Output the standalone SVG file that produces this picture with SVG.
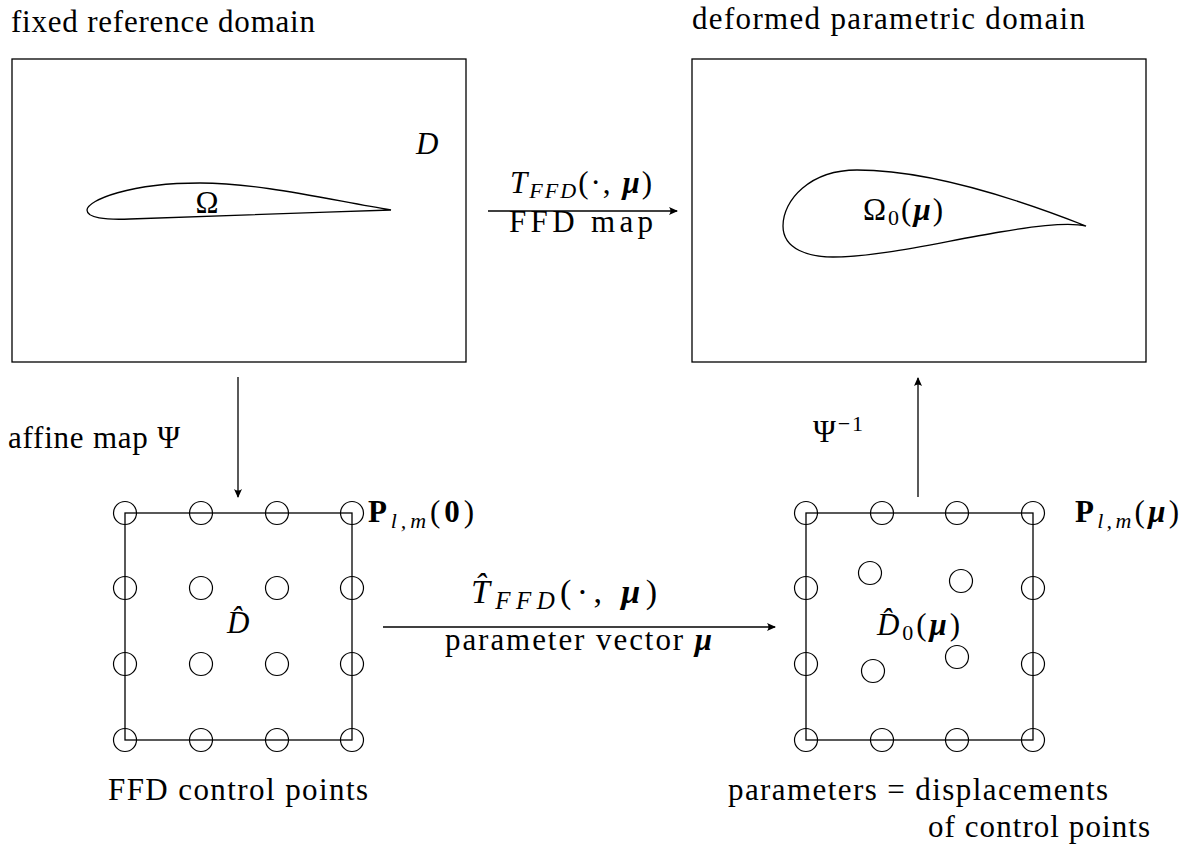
<svg xmlns="http://www.w3.org/2000/svg" width="1196" height="847" viewBox="0 0 1196 847">
<style>
  .t { font-family: 'Liberation Serif', 'Times New Roman', serif; font-size: 31px; fill: #000; }
  .it { font-style: italic; }
  .bf { font-weight: bold; }
  .bi { font-weight: bold; font-style: italic; }
  .sub { font-size: 22px; }
  .big { font-size: 34px; }
  .bigsub { font-size: 25px; }
  .box { fill: none; stroke: #000; stroke-width: 1.3; }
  .cp { fill: none; stroke: #000; stroke-width: 1.2; }
  .foil { fill: none; stroke: #000; stroke-width: 1.3; }
  .conn { fill: none; stroke: #000; stroke-width: 1.3; marker-end: url(#arr); }
</style>
<defs>
  <marker id="arr" viewBox="-10 -5 12 10" refX="0" refY="0" markerWidth="12" markerHeight="10" orient="auto" markerUnits="userSpaceOnUse">
    <path d="M1,0 L-8,-4 Q-5,0 -8,4 Z" fill="#000"/>
  </marker>
</defs>
<rect width="1196" height="847" fill="#fff"/>
<g class="t" font-family="'Liberation Serif', serif" font-size="31">

<g id="reference-domain">
  <text x="11" y="32" textLength="304">fixed reference domain</text>
  <rect class="box" x="12" y="59" width="454" height="303"/>
  <path class="foil" d="M391,210 C330,200 260,183 200,183 C130,183 88,200 87,210 C87,218 105,220 130,219 C200,217 300,213 391,210 Z"/>
  <text x="207" y="213" text-anchor="middle">Ω</text>
  <text class="it" x="416" y="154">D</text>
</g>

<g id="deformed-domain">
  <text x="692" y="29" textLength="393">deformed parametric domain</text>
  <rect class="box" x="692" y="59" width="454" height="303"/>
  <path class="foil" d="M1086,226 C1020,200 930,170 857,170 C810,170 783,200 783,226 C783,250 810,257 833,257 C880,257 940,242 1000,232 C1040,225 1070,222 1086,226 Z"/>
  <text x="863" y="220" textLength="80">Ω<tspan class="sub" dy="5">0</tspan><tspan dy="-5">(</tspan><tspan class="bi">μ</tspan>)</text>
</g>

<g id="ffd-reference-lattice">
  <rect class="box" x="125" y="513" width="227" height="227"/>
  <g class="cp">
    <circle cx="125" cy="513" r="11.5"/><circle cx="201" cy="513" r="11.5"/><circle cx="277" cy="513" r="11.5"/><circle cx="352" cy="513" r="11.5"/>
    <circle cx="125" cy="588" r="11.5"/><circle cx="201" cy="588" r="11.5"/><circle cx="277" cy="588" r="11.5"/><circle cx="352" cy="588" r="11.5"/>
    <circle cx="125" cy="664" r="11.5"/><circle cx="201" cy="664" r="11.5"/><circle cx="277" cy="664" r="11.5"/><circle cx="352" cy="664" r="11.5"/>
    <circle cx="125" cy="740" r="11.5"/><circle cx="201" cy="740" r="11.5"/><circle cx="277" cy="740" r="11.5"/><circle cx="352" cy="740" r="11.5"/>
  </g>
  <text class="it" x="227" y="633">D̂</text>
  <text x="368" y="522" textLength="106"><tspan class="bf">P</tspan><tspan class="sub it" dy="6">l,m</tspan><tspan dy="-6">(</tspan><tspan class="bf">0</tspan>)</text>
  <text x="108" y="800" textLength="260">FFD control points</text>
</g>

<g id="ffd-deformed-lattice">
  <rect class="box" x="806" y="513" width="227" height="227"/>
  <g class="cp">
    <circle cx="806" cy="513" r="11.5"/><circle cx="882" cy="513" r="11.5"/><circle cx="957" cy="513" r="11.5"/><circle cx="1033" cy="513" r="11.5"/>
    <circle cx="806" cy="588" r="11.5"/><circle cx="870" cy="573" r="11.5"/><circle cx="961" cy="581" r="11.5"/><circle cx="1033" cy="588" r="11.5"/>
    <circle cx="806" cy="664" r="11.5"/><circle cx="873" cy="671" r="11.5"/><circle cx="957" cy="657" r="11.5"/><circle cx="1033" cy="664" r="11.5"/>
    <circle cx="806" cy="740" r="11.5"/><circle cx="882" cy="740" r="11.5"/><circle cx="957" cy="740" r="11.5"/><circle cx="1033" cy="740" r="11.5"/>
  </g>
  <text x="877" y="635" textLength="83"><tspan class="it">D̂</tspan><tspan class="sub" dy="5">0</tspan><tspan dy="-5">(</tspan><tspan class="bi">μ</tspan>)</text>
  <text x="1075" y="522" textLength="104"><tspan class="bf">P</tspan><tspan class="sub it" dy="6">l,m</tspan><tspan dy="-6">(</tspan><tspan class="bi">μ</tspan>)</text>
  <text x="728" y="800" textLength="380">parameters = displacements</text>
  <text x="928" y="837" textLength="222">of control points</text>
</g>

<g id="connectors">
  <line class="conn" x1="488" y1="211" x2="677" y2="211"/>
  <text x="510" y="193" textLength="142"><tspan class="it">T</tspan><tspan class="sub it" dy="5">FFD</tspan><tspan dy="-5">(·, </tspan><tspan class="bi">μ</tspan>)</text>
  <text x="509" y="232" textLength="144">FFD map</text>

  <line class="conn" x1="238" y1="377" x2="238" y2="497"/>
  <text x="8" y="448" textLength="172">affine map Ψ</text>

  <line class="conn" x1="383" y1="627" x2="775" y2="627"/>
  <text class="big" x="471" y="603" textLength="186"><tspan class="it">T̂</tspan><tspan class="bigsub it" dy="6">FFD</tspan><tspan dy="-6">(·, </tspan><tspan class="bi">μ</tspan>)</text>
  <text x="445" y="650" textLength="267">parameter vector <tspan class="bi">μ</tspan></text>

  <line class="conn" x1="918" y1="497" x2="918" y2="378"/>
  <text x="813" y="442" textLength="50">Ψ<tspan class="sub" dy="-11">−1</tspan></text>
</g>
</g>
</svg>
